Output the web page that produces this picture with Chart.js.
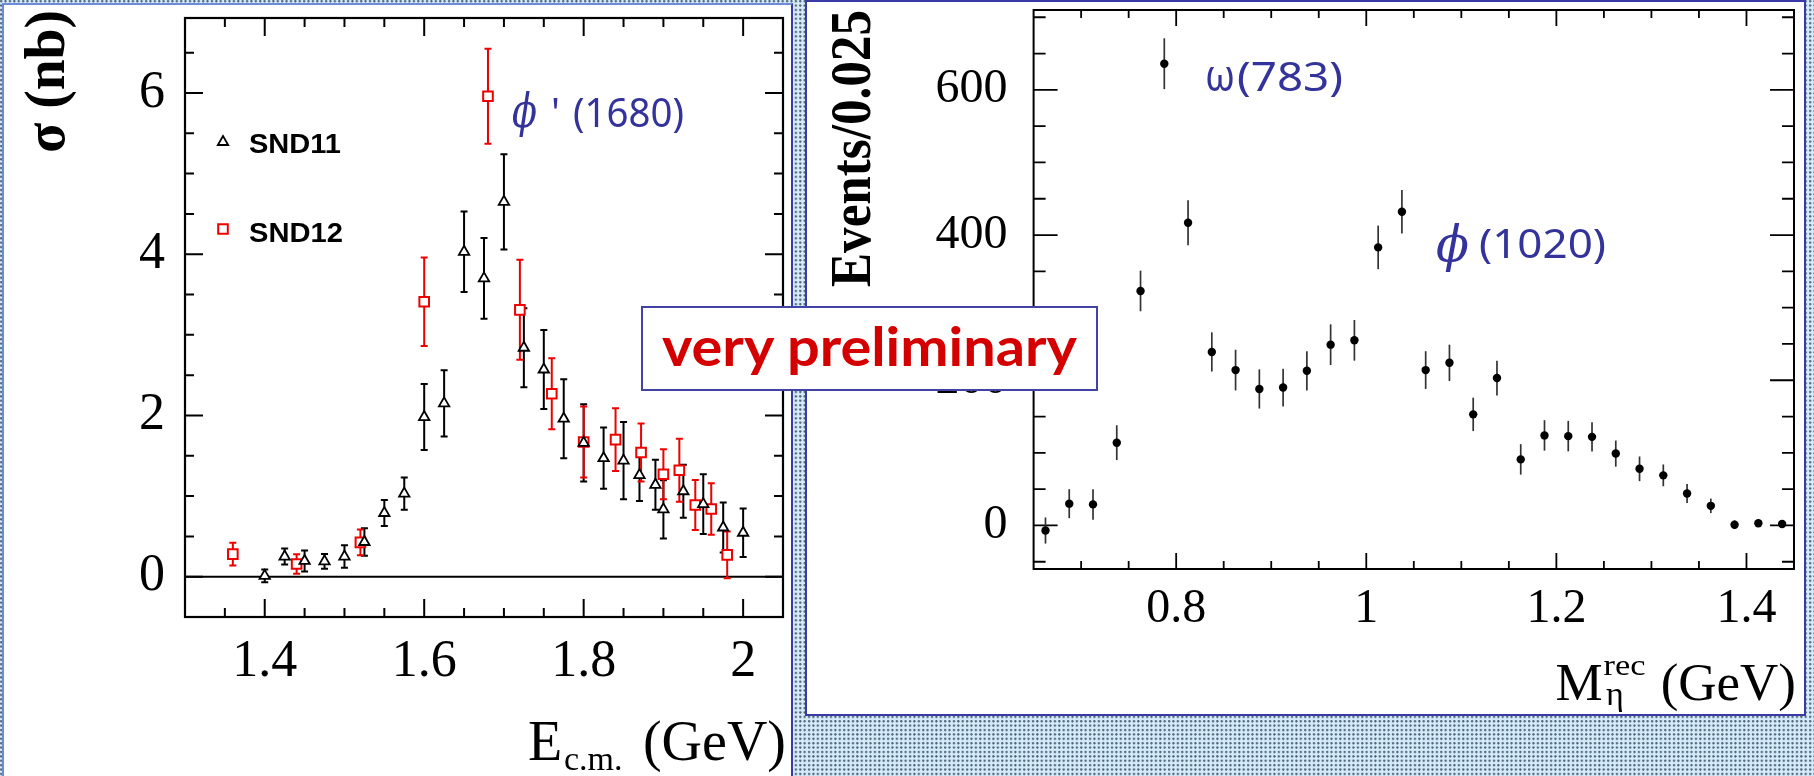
<!DOCTYPE html>
<html>
<head>
<meta charset="utf-8">
<script src="https://cdn.jsdelivr.net/npm/chart.js@4.4.1/dist/chart.umd.min.js"></script>
<style>
html,body{margin:0;padding:0;width:1814px;height:776px;overflow:hidden;}
body{position:relative;background-color:#d3ebfa;
 background-image:radial-gradient(circle at 1.2px 1.2px,#4f6072 0.9px,rgba(0,0,0,0) 1.4px);
 background-size:4.4px 4.4px;}
#panelL{position:absolute;left:2px;top:3px;width:787px;height:775px;background:#fff;
 border:2px solid #3a3aa6;border-left-color:#6d8bd8;border-top-color:#6d8bd8;}
#panelR{position:absolute;left:805px;top:0;width:997px;height:712px;background:#fff;border:2px solid #3a3aa6;}
#cL{position:absolute;left:0;top:0;width:793px;height:776px;z-index:2;}
#cR{position:absolute;left:806px;top:0;width:1000px;height:716px;z-index:2;}
#prelim{position:absolute;left:641px;top:306px;width:457px;height:85px;box-sizing:border-box;
 border:2px solid #4343a6;background:#fff;z-index:5;}
#prelimText{position:absolute;left:19px;top:11px;font-family:Lato,"Noto Sans",sans-serif;font-weight:bold;
 font-size:54px;line-height:54px;color:#d40000;white-space:nowrap;transform-origin:0 0;}
</style>
</head>
<body>
<div id="panelL"></div>
<div id="panelR"></div>
<canvas id="cL" width="793" height="776"></canvas>
<canvas id="cR" width="1000" height="716"></canvas>
<div id="prelim"><span id="prelimText">very preliminary</span></div>
<script>
// ---------------- data: left panel (cross section) ----------------
const snd11E     = [1.40, 1.425, 1.45, 1.475, 1.50, 1.525, 1.55, 1.575, 1.60, 1.625, 1.65, 1.675, 1.70, 1.725, 1.75, 1.775, 1.80, 1.825, 1.85, 1.87, 1.89, 1.90, 1.925, 1.95, 1.975, 2.00];
const snd11Sigma = [0.01, 0.25, 0.195, 0.19, 0.25, 0.43, 0.79, 1.03, 1.98, 2.15, 4.03, 3.70, 4.65, 2.84, 2.57, 1.96, 1.66, 1.47, 1.44, 1.26, 1.14, 0.835, 1.06, 0.90, 0.61, 0.545];
const snd11Err   = [0.08, 0.10, 0.13, 0.09, 0.14, 0.17, 0.16, 0.20, 0.41, 0.41, 0.50, 0.50, 0.59, 0.49, 0.49, 0.49, 0.48, 0.38, 0.48, 0.32, 0.31, 0.36, 0.33, 0.37, 0.31, 0.30];
const snd12E     = [1.36, 1.44, 1.52, 1.60, 1.68, 1.72, 1.76, 1.80, 1.84, 1.872, 1.90, 1.92, 1.94, 1.96, 1.98];
const snd12Sigma = [0.28, 0.157, 0.426, 3.41, 5.96, 3.31, 2.27, 1.67, 1.70, 1.54, 1.27, 1.32, 0.89, 0.84, 0.27];
const snd12Err   = [0.14, 0.12, 0.16, 0.55, 0.59, 0.62, 0.44, 0.44, 0.39, 0.36, 0.31, 0.39, 0.31, 0.32, 0.29];
const leftXTicks = [1.4, 1.6, 1.8, 2.0];
const leftXTickLabels = ['1.4', '1.6', '1.8', '2'];
const leftYTicks = [0, 2, 4, 6];
const leftYTickLabels = ['0', '2', '4', '6'];

// ---------------- data: right panel (recoil mass) ----------------
const mEta   = [0.6625, 0.6875, 0.7125, 0.7375, 0.7625, 0.7875, 0.8125, 0.8375, 0.8625, 0.8875, 0.9125, 0.9375, 0.9625, 0.9875, 1.0125, 1.0375, 1.0625, 1.0875, 1.1125, 1.1375, 1.1625, 1.1875, 1.2125, 1.2375, 1.2625, 1.2875, 1.3125, 1.3375, 1.3625, 1.3875, 1.4125, 1.4375];
const events = [-7, 30, 29, 114, 323, 636, 417, 239, 214, 188, 190, 213, 249, 255, 383, 432, 214, 224, 153, 203, 91, 124, 123, 122, 99, 78, 69, 44, 27, 1, 3, 2];
const eventErr = [18, 20, 21, 24, 28, 35, 31, 27, 28, 27, 26, 27, 28, 28, 30, 30, 26, 25, 23, 24, 21, 21, 21, 20, 18, 17, 15, 13, 10, 6, 4, 4];
const rightXTicks = [0.8, 1.0, 1.2, 1.4];
const rightXTickLabels = ['0.8', '1', '1.2', '1.4'];
const rightYTicks = [0, 200, 400, 600];
const rightYTickLabels = ['0', '200', '400', '600'];

const BLUE = '#33339b';
const SERIF = '"Liberation Serif", "Times New Roman", serif';
const COMIC = '"Noto Sans", sans-serif';

// per-canvas drawing configuration (kept outside Chart options)
const cfgs = {};

function drawRun(ctx, r) {
  ctx.save();
  ctx.font = r.font;
  ctx.fillStyle = r.color || '#000';
  ctx.textBaseline = 'alphabetic';
  ctx.textAlign = r.align || 'left';
  ctx.translate(r.x, r.y);
  if (r.rot) ctx.rotate(r.rot);
  if (r.fitW) {
    const w = ctx.measureText(r.t).width;
    ctx.scale(r.fitW / w, 1);
  }
  ctx.fillText(r.t, 0, 0);
  ctx.restore();
}

function tickList(min, max, step) {
  const out = [];
  const start = Math.ceil((min + 1e-9) / step);
  for (let k = start; k * step < max - 1e-9; k++) out.push(k * step);
  return out;
}

const rootPlugin = {
  id: 'rootStyle',
  beforeDatasetsDraw(chart) {
    const c = cfgs[chart.canvas.id];
    if (!c) return;
    const ctx = chart.ctx, a = chart.chartArea, xs = chart.scales.x, ys = chart.scales.y;
    ctx.save();
    ctx.strokeStyle = '#000';
    ctx.lineCap = 'butt';
    if (c.zeroLine) {
      const py = ys.getPixelForValue(0);
      ctx.lineWidth = c.zeroLine;
      ctx.beginPath(); ctx.moveTo(a.left, py); ctx.lineTo(a.right, py); ctx.stroke();
    }
    ctx.lineWidth = c.tickWidth;
    const isMajor = (v, majors) => majors.some(m => Math.abs(m - v) < 1e-6);
    tickList(xs.min, xs.max, c.xMinorStep).forEach(v => {
      const px = xs.getPixelForValue(v);
      const L = isMajor(v, c.xMajors) ? c.xMajorLen : c.xMinorLen;
      ctx.beginPath();
      ctx.moveTo(px, a.bottom); ctx.lineTo(px, a.bottom - L);
      ctx.moveTo(px, a.top); ctx.lineTo(px, a.top + L);
      ctx.stroke();
    });
    tickList(ys.min, ys.max, c.yMinorStep).forEach(v => {
      const py = ys.getPixelForValue(v);
      const L = isMajor(v, c.yMajors) ? c.yMajorLen : c.yMinorLen;
      ctx.beginPath();
      ctx.moveTo(a.left, py); ctx.lineTo(a.left + L, py);
      ctx.moveTo(a.right, py); ctx.lineTo(a.right - L, py);
      ctx.stroke();
    });
    ctx.lineWidth = c.frameWidth;
    ctx.strokeRect(a.left, a.top, a.right - a.left, a.bottom - a.top);
    c.errors.forEach(eb => {
      const ds = chart.data.datasets[eb.dataset];
      ctx.strokeStyle = eb.color;
      ctx.lineWidth = eb.width;
      ds.data.forEach((p, i) => {
        const px = xs.getPixelForValue(p.x);
        const y1 = ys.getPixelForValue(p.y - eb.err[i]);
        const y2 = ys.getPixelForValue(p.y + eb.err[i]);
        ctx.beginPath();
        ctx.moveTo(px, y1); ctx.lineTo(px, y2);
        if (eb.cap) {
          ctx.moveTo(px - eb.cap, y1); ctx.lineTo(px + eb.cap, y1);
          ctx.moveTo(px - eb.cap, y2); ctx.lineTo(px + eb.cap, y2);
        }
        ctx.stroke();
      });
    });
    ctx.restore();
  },
  afterDraw(chart) {
    const c = cfgs[chart.canvas.id];
    if (!c) return;
    const ctx = chart.ctx;
    (c.legend || []).forEach(lg => {
      const ds = chart.data.datasets[lg.dataset];
      ctx.save();
      ctx.strokeStyle = ds.borderColor;
      ctx.fillStyle = ds.backgroundColor;
      ctx.lineWidth = ds.borderWidth;
      if (Chart.helpers && Chart.helpers.drawPoint) {
        Chart.helpers.drawPoint(ctx, {pointStyle: ds.pointStyle, radius: ds.pointRadius, rotation: 0, borderWidth: ds.borderWidth}, lg.x, lg.y);
      }
      ctx.restore();
      drawRun(ctx, {t: ds.label, x: lg.tx, y: lg.ty, font: 'bold 28px "Liberation Sans", Arial, sans-serif', fitW: lg.fitW});
    });
    (c.texts || []).forEach(r => drawRun(ctx, r));
  }
};

function labelCb(ticksArr, labels) {
  return (value) => {
    const i = ticksArr.findIndex(t => Math.abs(t - value) < 1e-9);
    return i >= 0 ? labels[i] : '';
  };
}
function fixX(h) { return s => { s.height = h; s.paddingLeft = 0; s.paddingRight = 0; s.paddingTop = 0; s.paddingBottom = 0; }; }
function fixY(w) { return s => { s.width = w; s.paddingLeft = 0; s.paddingRight = 0; s.paddingTop = 0; s.paddingBottom = 0; }; }

// ---------------- left chart ----------------
cfgs.cL = {
  zeroLine: 2, tickWidth: 2, frameWidth: 2.2,
  xMinorStep: 0.05, xMajors: leftXTicks, xMajorLen: 18, xMinorLen: 9,
  yMinorStep: 0.5, yMajors: leftYTicks, yMajorLen: 18, yMinorLen: 9,
  errors: [
    {dataset: 0, err: snd11Err, color: '#000', width: 2, cap: 3.5},
    {dataset: 1, err: snd12Err, color: '#ee0000', width: 2, cap: 3.5}
  ],
  legend: [
    {dataset: 0, x: 223, y: 142, tx: 249, ty: 153, fitW: 92},
    {dataset: 1, x: 223, y: 229, tx: 249, ty: 241.5, fitW: 94}
  ],
  texts: [
    {t: 'σ (nb)', x: 64, y: 153, font: 'bold 56px ' + SERIF, rot: -Math.PI / 2, fitW: 143},
    {t: 'E', x: 528, y: 760, font: '56px ' + SERIF},
    {t: 'c.m.', x: 564, y: 770, font: '34px ' + SERIF},
    {t: '(GeV)', x: 786, y: 760, font: '56px ' + SERIF, align: 'right'},
    {t: 'ϕ', x: 512, y: 127, font: 'italic 46px "DejaVu Serif", serif', color: BLUE, fitW: 25},
    {t: "'", x: 551, y: 127, font: '40px ' + COMIC, color: BLUE},
    {t: '(1680)', x: 573, y: 127, font: '40px ' + COMIC, color: BLUE, fitW: 111}
  ]
};

new Chart(document.getElementById('cL'), {
  type: 'scatter',
  data: {
    datasets: [
      {label: 'SND11', data: snd11E.map((e, i) => ({x: e, y: snd11Sigma[i]})),
       pointStyle: 'triangle', pointRadius: 6, borderColor: '#000', backgroundColor: '#fff', borderWidth: 1.8},
      {label: 'SND12', data: snd12E.map((e, i) => ({x: e, y: snd12Sigma[i]})),
       pointStyle: 'rect', pointRadius: 6.8, borderColor: '#ee0000', backgroundColor: '#fff', borderWidth: 2}
    ]
  },
  options: {
    responsive: false, animation: false, devicePixelRatio: 1,
    layout: {padding: {left: 0, right: 10, top: 18, bottom: 0}},
    plugins: {legend: {display: false}, tooltip: {enabled: false}},
    scales: {
      x: {
        type: 'linear', min: 1.3, max: 2.05,
        grid: {display: false, drawTicks: false}, border: {display: false},
        afterBuildTicks: s => { s.ticks = leftXTicks.map(v => ({value: v})); },
        afterFit: fixX(159),
        ticks: {font: {family: SERIF, size: 52}, color: '#000', padding: 14, maxRotation: 0, autoSkip: false,
                callback: labelCb(leftXTicks, leftXTickLabels)}
      },
      y: {
        type: 'linear', min: -0.5, max: 6.93,
        grid: {display: false, drawTicks: false}, border: {display: false},
        afterBuildTicks: s => { s.ticks = leftYTicks.map(v => ({value: v})); },
        afterFit: fixY(185),
        ticks: {font: {family: SERIF, size: 52}, color: '#000', padding: 20, autoSkip: false,
                callback: labelCb(leftYTicks, leftYTickLabels)}
      }
    }
  },
  plugins: [rootPlugin]
});

// ---------------- right chart ----------------
cfgs.cR = {
  zeroLine: 0, tickWidth: 1.8, frameWidth: 2,
  xMinorStep: 0.05, xMajors: rightXTicks, xMajorLen: 16, xMinorLen: 8,
  yMinorStep: 50, yMajors: rightYTicks, yMajorLen: 24, yMinorLen: 12,
  errors: [{dataset: 0, err: eventErr, color: '#333', width: 1.7, cap: 0}],
  legend: [],
  texts: [
    {t: 'Events/0.025', x: 64, y: 287, font: 'bold 58px ' + SERIF, rot: -Math.PI / 2, fitW: 277},
    {t: 'M', x: 749.5, y: 700, font: '53px ' + SERIF},
    {t: 'rec', x: 797.5, y: 675, font: '30px ' + SERIF, fitW: 42},
    {t: 'η', x: 800, y: 705, font: '34px ' + SERIF},
    {t: '(GeV)', x: 990, y: 700, font: '53px ' + SERIF, align: 'right'},
    {t: 'ω', x: 399, y: 91, font: '44px ' + COMIC, color: BLUE, fitW: 30},
    {t: '(783)', x: 431, y: 91, font: '40px ' + COMIC, color: BLUE, fitW: 106},
    {t: 'ϕ', x: 630, y: 261, font: 'italic 50px "DejaVu Serif", serif', color: BLUE, fitW: 33},
    {t: '(1020)', x: 673, y: 258, font: '40px ' + COMIC, color: BLUE, fitW: 127}
  ]
};

new Chart(document.getElementById('cR'), {
  type: 'scatter',
  data: {
    datasets: [
      {label: 'data', data: mEta.map((m, i) => ({x: m, y: events[i]})),
       pointStyle: 'circle', pointRadius: 4.2, borderColor: '#000', backgroundColor: '#000', borderWidth: 0}
    ]
  },
  options: {
    responsive: false, animation: false, devicePixelRatio: 1,
    layout: {padding: {left: 0, right: 12, top: 10, bottom: 0}},
    plugins: {legend: {display: false}, tooltip: {enabled: false}},
    scales: {
      x: {
        type: 'linear', min: 0.65, max: 1.45,
        grid: {display: false, drawTicks: false}, border: {display: false},
        afterBuildTicks: s => { s.ticks = rightXTicks.map(v => ({value: v})); },
        afterFit: fixX(147),
        ticks: {font: {family: SERIF, size: 48}, color: '#000', padding: 12, maxRotation: 0, autoSkip: false,
                callback: labelCb(rightXTicks, rightXTickLabels)}
      },
      y: {
        type: 'linear', min: -60, max: 710,
        grid: {display: false, drawTicks: false}, border: {display: false},
        afterBuildTicks: s => { s.ticks = rightYTicks.map(v => ({value: v})); },
        afterFit: fixY(227.6),
        ticks: {font: {family: SERIF, size: 48}, color: '#000', padding: 26, autoSkip: false,
                callback: labelCb(rightYTicks, rightYTickLabels)}
      }
    }
  },
  plugins: [rootPlugin]
});

// fit the "very preliminary" label to its box
(function () {
  const sp = document.getElementById('prelimText');
  const w = sp.getBoundingClientRect().width;
  sp.style.transform = 'scaleX(' + (415 / w) + ')';
})();
</script>
</body>
</html>
